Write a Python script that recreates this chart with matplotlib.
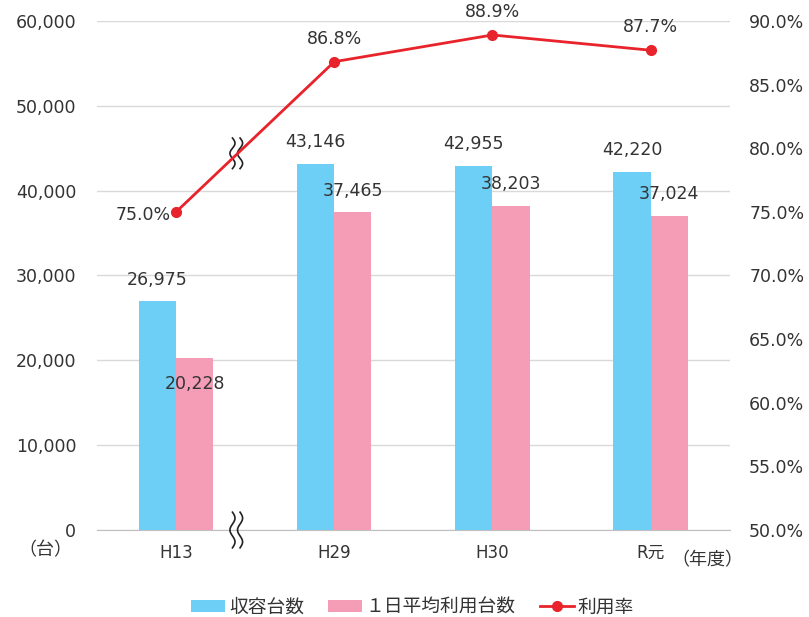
import numpy as np
import matplotlib
matplotlib.use("Agg")
import matplotlib.pyplot as plt
from matplotlib.ticker import FuncFormatter

plt.rcParams['font.family'] = ['DejaVu Sans', 'Noto Sans CJK JP']

years = ["H13", "H29", "H30", "R元"]
capacity = [26975, 43146, 42955, 42220]
daily_use = [20228, 37465, 38203, 37024]
use_rate = [75.0, 86.8, 88.9, 87.7]

blue = "#6dcff6"
pink = "#f59db6"
red = "#e8232b"
txt = "#333333"
fs = 12.5

fig = plt.figure(figsize=(8.09, 6.17), dpi=100)
ax = fig.add_axes([0.12, 0.141, 0.782, 0.825])
ax2 = ax.twinx()

x = np.arange(len(years))
w = 0.235
ax.bar(x - w / 2, capacity, w, color=blue, label="収容台数", zorder=3)
ax.bar(x + w / 2, daily_use, w, color=pink, label="１日平均利用台数", zorder=3)

ax.set_ylim(0, 60000)
ax.set_xlim(-0.5, 3.5)
ax.set_yticks(range(0, 60001, 10000))
ax.yaxis.set_major_formatter(FuncFormatter(lambda v, p: f"{int(v):,}"))
ax.grid(axis="y", color="#d9d9d9", linewidth=1, zorder=0)
ax.set_xticks(x)
ax.set_xticklabels(years)
ax.tick_params(length=0, labelsize=fs, colors=txt, pad=15)
ax.tick_params(axis="x", pad=10, labelsize=12)
for s in ["top", "left", "right"]:
    ax.spines[s].set_visible(False)
    ax2.spines[s].set_visible(False)
ax.spines["bottom"].set_color("#bfbfbf")
ax2.spines["bottom"].set_visible(False)

# bar value labels
for i in range(len(years)):
    ax.annotate(f"{capacity[i]:,}", (x[i] - w / 2, capacity[i]), xytext=(0, 9),
                textcoords="offset points", ha="center", va="bottom", fontsize=fs, color=txt)
    dy = -25 if i == 0 else 9
    ax.annotate(f"{daily_use[i]:,}", (x[i] + w / 2, daily_use[i]), xytext=(0, dy),
                textcoords="offset points", ha="center", va="bottom", fontsize=fs, color=txt)

ax2.plot(x, use_rate, color=red, linewidth=2, marker="o", markersize=7, label="利用率", zorder=4)
ax2.set_ylim(50, 90)
ax2.set_yticks(range(50, 91, 5))
ax2.yaxis.set_major_formatter(FuncFormatter(lambda v, p: f"{v:.1f}%"))
ax2.tick_params(length=0, labelsize=fs, colors=txt, pad=14)

for i in range(len(years)):
    if i == 0:
        ax2.annotate(f"{use_rate[i]:.1f}%", (x[i], use_rate[i]), xytext=(-4, -2),
                     textcoords="offset points", ha="right", va="center", fontsize=fs, color=txt)
    else:
        ax2.annotate(f"{use_rate[i]:.1f}%", (x[i], use_rate[i]), xytext=(0, 10),
                     textcoords="offset points", ha="center", va="bottom", fontsize=fs, color=txt)

# break marks
t = np.linspace(0, 1, 40)
for yc, h in [(0.74, 0.06), (0.0, 0.07)]:
    for dx in (-0.006, 0.006):
        xs = 0.22 + dx + 0.004 * np.sin(t * 3 * np.pi)
        ys = yc - h / 2 + h * t
        ax.plot(xs, ys, transform=ax.transAxes, color="#222222", linewidth=1.2,
                clip_on=False, zorder=5)

fig.text(0.056, 0.108, "（台）", fontsize=13, color=txt, ha="center", va="center")
fig.text(0.875, 0.092, "（年度）", fontsize=13, color=txt, ha="center", va="center")

h1, l1 = ax.get_legend_handles_labels()
h2, l2 = ax2.get_legend_handles_labels()
fig.legend(h1 + h2, l1 + l2, loc="center", bbox_to_anchor=(0.51, 0.016), ncol=3,
           frameon=False, fontsize=13.5, handlelength=1.8, handleheight=0.6,
           columnspacing=1.3, handletextpad=0.2, labelcolor=txt)

fig.savefig("out.png", dpi=100)
